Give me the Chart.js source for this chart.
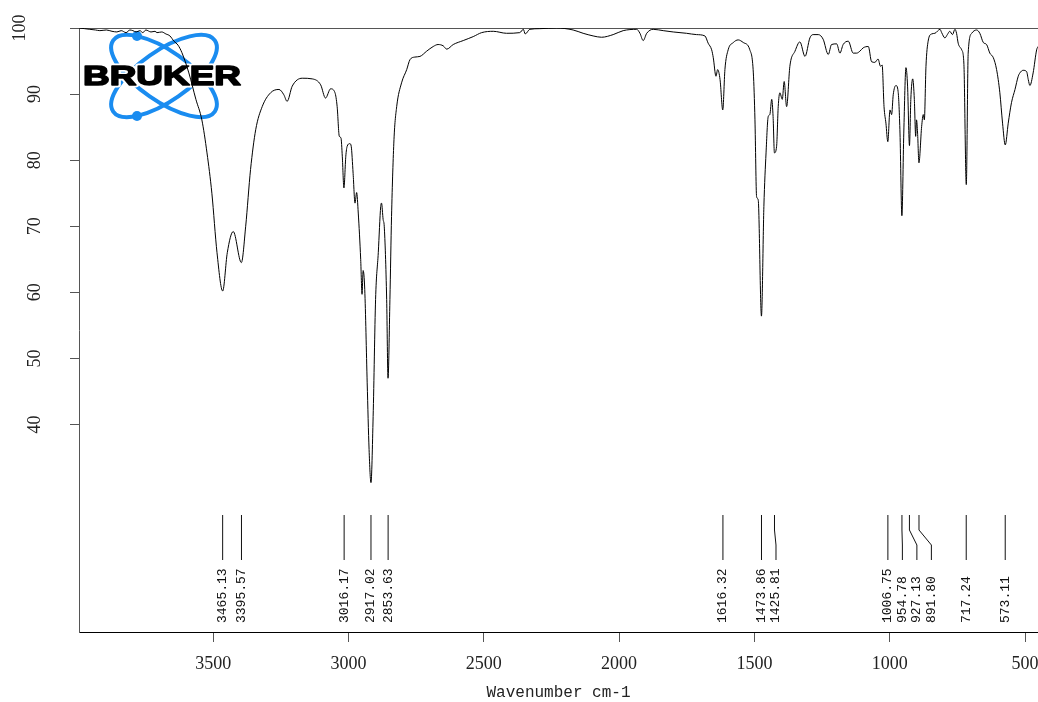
<!DOCTYPE html>
<html>
<head>
<meta charset="utf-8">
<script src="https://cdn.jsdelivr.net/npm/chart.js@4.4.1/dist/chart.umd.min.js"></script>
<style>
    html, body { margin: 0; padding: 0; background: #fff; }
    #wrap { width: 1038px; height: 702px; }
</style>
</head>
<body>
<div id="wrap"><canvas id="myChart" width="1038" height="702"></canvas></div>
<script>
// spectrum (wavenumber cm-1 / transmittance %)
const wavenumbers = [
    3996, 3975, 3956, 3935, 3919, 3895, 3874, 3856, 3840, 3822, 3808, 3797, 3785, 3771, 3760, 3749,
    3730, 3715, 3708, 3690, 3675, 3660, 3645, 3630, 3616, 3590, 3564, 3542, 3523, 3505, 3486, 3465,
    3448, 3426, 3396, 3380, 3362, 3343, 3319, 3288, 3257, 3239, 3227, 3208, 3171, 3134, 3103, 3085,
    3066, 3050, 3042, 3034, 3028, 3023, 3017, 3010, 3005, 2995, 2990, 2983, 2976, 2970, 2964, 2955,
    2950, 2946, 2940, 2931, 2924, 2917, 2909, 2900, 2890, 2881, 2878, 2872, 2868, 2859, 2854, 2847,
    2841, 2832, 2822, 2804, 2785, 2773, 2755, 2736, 2711, 2687, 2669, 2650, 2637, 2613, 2576, 2539,
    2508, 2465, 2416, 2367, 2354, 2347, 2330, 2293, 2231, 2170, 2133, 2096, 2065, 2022, 1985, 1935,
    1923, 1911, 1898, 1874, 1837, 1800, 1751, 1714, 1683, 1671, 1658, 1652, 1642, 1636, 1627, 1617,
    1609, 1597, 1578, 1560, 1541, 1517, 1504, 1498, 1492, 1486, 1474, 1465, 1457, 1449, 1443, 1436,
    1431, 1426, 1418, 1412, 1406, 1397, 1390, 1381, 1369, 1350, 1332, 1313, 1295, 1283, 1264, 1246,
    1227, 1215, 1196, 1184, 1172, 1153, 1135, 1122, 1110, 1098, 1079, 1067, 1055, 1043, 1034, 1028,
    1021, 1014, 1007, 999, 993, 987, 977, 969, 962, 955, 948, 940, 934, 927, 922, 915,
    909, 904, 901, 897, 892, 882, 876, 872, 866, 858, 845, 833, 814, 808, 796, 787,
    778, 768, 759, 753, 747, 734, 726, 717, 710, 697, 679, 667, 654, 642, 630, 617,
    605, 593, 583, 573, 562, 550, 537, 525, 519, 507, 494, 488, 482, 470, 457, 452
];
const transmittance = [
    100, 99.9, 99.8, 99.7, 99.6, 99.7, 99.5, 99.4, 99.6, 99.3, 99.7, 99.6, 99.4, 99.6, 99.3, 99.7,
    99.4, 99.5, 99.3, 99.4, 99.1, 98.8, 98.0, 97.4, 96.3, 93.2, 89.2, 86.1, 81.1, 75.0, 66.0, 60.2,
    66.0, 69.2, 64.5, 70.0, 78.6, 84.6, 88.1, 90.2, 90.7, 89.9, 88.9, 91.2, 92.4, 92.3, 91.4, 89.4,
    90.8, 90.2, 88.1, 83.6, 83.4, 80.6, 75.8, 80.6, 82.1, 82.5, 82.1, 78.0, 73.5, 75.1, 72.0, 65.0,
    59.7, 63.3, 60.4, 46.3, 36.2, 31.2, 41.2, 58.9, 66.0, 73.0, 73.5, 71.0, 70.0, 58.9, 47.0, 58.9,
    71.5, 83.1, 88.1, 91.7, 93.7, 95.2, 95.6, 95.7, 96.5, 97.2, 97.5, 97.3, 96.8, 97.5, 98.1, 98.7,
    99.3, 99.5, 99.2, 99.3, 99.8, 99.1, 99.8, 99.9, 100, 99.7, 99.2, 98.8, 98.6, 99.0, 99.6, 99.8,
    99.2, 98.1, 99.2, 99.8, 99.6, 99.4, 99.2, 99.0, 98.8, 97.7, 96.7, 95.5, 92.7, 93.7, 92.2, 87.6,
    93.7, 96.7, 97.8, 98.2, 97.8, 96.7, 93.2, 86.1, 74.5, 74.0, 56.4, 73.0, 81.1, 86.6, 86.9, 89.2,
    86.6, 81.1, 82.1, 88.1, 90.2, 89.2, 91.9, 88.1, 94.2, 96.5, 97.9, 95.7, 98.5, 99.0, 99.0, 98.3,
    96.0, 97.5, 97.6, 96.2, 97.5, 98.0, 96.2, 96.2, 96.5, 97.0, 97.2, 94.9, 94.8, 95.3, 94.2, 94.4,
    88.1, 85.6, 82.8, 87.6, 86.9, 89.9, 91.3, 90.4, 84.1, 71.6, 84.1, 94.0, 91.2, 82.2, 89.2, 92.3,
    89.2, 83.6, 86.1, 84.1, 79.6, 85.1, 86.9, 86.1, 94.2, 98.0, 99.1, 99.2, 99.8, 99.3, 98.5, 99.0,
    99.5, 99.0, 99.8, 99.2, 97.7, 96.7, 94.7, 76.3, 96.2, 99.2, 99.7, 99.2, 97.8, 97.5, 96.2, 95.5,
    93.7, 90.2, 85.6, 82.3, 85.6, 88.7, 90.7, 92.7, 93.2, 93.6, 93.4, 92.2, 91.3, 93.2, 96.7, 97.2
];

// picked peaks
const peakPositions = [3465.13, 3395.57, 3016.17, 2917.02, 2853.63, 1616.32, 1473.86, 1425.81,
    1006.75, 954.78, 927.13, 891.80, 717.24, 573.11];
const peakLabels = ['3465.13', '3395.57', '3016.17', '2917.02', '2853.63', '1616.32', '1473.86', '1425.81',
    '1006.75', '954.78', '927.13', '891.80', '717.24', '573.11'];

const xTicks = [3500, 3000, 2500, 2000, 1500, 1000, 500];
const yTicks = [40, 50, 60, 70, 80, 90, 100];

// Bruker logo drawn under the curve
const logoPlugin = {
    id: 'logo',
    beforeDatasetsDraw(chart) {
        const c = chart.ctx;
        c.save();
        c.strokeStyle = '#1a8cf0';
        c.lineWidth = 4;
        [35, -35].forEach(a => {
            c.beginPath();
            c.ellipse(164, 76, 62, 25, a * Math.PI / 180, 0, Math.PI * 2);
            c.stroke();
        });
        c.fillStyle = '#1a8cf0';
        [[137, 36], [137, 116]].forEach(p => {
            c.beginPath();
            c.arc(p[0], p[1], 5, 0, Math.PI * 2);
            c.fill();
        });
        c.font = 'bold 28px "Liberation Sans"';
        const w = c.measureText('BRUKER').width;
        c.translate(162, 77);
        c.scale(158 / w, 1);
        c.textAlign = 'center';
        c.textBaseline = 'middle';
        c.lineJoin = 'round';
        c.lineWidth = 5;
        c.strokeStyle = '#fff';
        c.strokeText('BRUKER', 0, 0);
        c.lineWidth = 1.6;
        c.strokeStyle = '#000';
        c.strokeText('BRUKER', 0, 0);
        c.fillStyle = '#000';
        c.fillText('BRUKER', 0, 0);
        c.restore();
    }
};

// rotated y tick labels + peak markers
const annotatePlugin = {
    id: 'annotate',
    afterDraw(chart) {
        const c = chart.ctx;
        const xs = chart.scales.x, ys = chart.scales.y;
        c.save();
        c.fillStyle = '#222';
        c.font = '18px "Liberation Serif"';
        c.textAlign = 'center';
        c.textBaseline = 'middle';
        yTicks.forEach(v => {
            c.save();
            c.translate(v === 100 ? 20 : 35, ys.getPixelForValue(v));
            c.rotate(-Math.PI / 2);
            c.fillText(String(v), 0, 0);
            c.restore();
        });

        // spread labels that would overlap
        let prev = -1000;
        c.strokeStyle = '#111';
        c.lineWidth = 1;
        c.font = '13px "Liberation Mono"';
        c.textAlign = 'left';
        c.fillStyle = '#111';
        peakPositions.forEach((p, i) => {
            const px = xs.getPixelForValue(p);
            const lx = Math.max(px, prev + 14.5);
            prev = lx;
            c.beginPath();
            c.moveTo(px, 515);
            c.lineTo(px, 530);
            c.lineTo(lx, 545);
            c.lineTo(lx, 560);
            c.stroke();
            c.save();
            c.translate(lx, 623);
            c.rotate(-Math.PI / 2);
            c.fillText(peakLabels[i], 0, 0);
            c.restore();
        });
        c.restore();
    }
};

const ctx = document.getElementById('myChart').getContext('2d');
const myChart = new Chart(ctx, {
    type: 'line',
    data: {
        datasets: [{
            data: wavenumbers.map((w, i) => ({ x: w, y: transmittance[i] })),
            borderColor: '#000',
            borderWidth: 1,
            pointRadius: 0,
            fill: false,
            cubicInterpolationMode: 'monotone'
        }]
    },
    options: {
        responsive: false,
        animation: false,
        devicePixelRatio: 1,
        layout: { autoPadding: false, padding: { top: 28, right: 0, bottom: 0, left: 0 } },
        plugins: { legend: { display: false }, tooltip: { enabled: false } },
        scales: {
            x: {
                type: 'linear',
                reverse: true,
                min: 452,
                max: 3996,
                afterBuildTicks: s => { s.ticks = xTicks.map(v => ({ value: v })); },
                afterFit: s => { s.height = 70; s.paddingLeft = 0; s.paddingRight = 0; },
                grid: { drawOnChartArea: false, drawTicks: true, tickLength: 10, tickColor: '#555' },
                border: { color: '#000', width: 1 },
                ticks: {
                    color: '#222',
                    font: { family: 'Liberation Serif', size: 18 },
                    padding: 11,
                    maxRotation: 0,
                    autoSkip: false,
                    callback: v => String(v)
                },
                title: {
                    display: true,
                    text: 'Wavenumber cm-1',
                    color: '#222',
                    font: { family: 'Liberation Mono', size: 16 },
                    padding: { top: 0, bottom: 0 }
                }
            },
            y: {
                type: 'linear',
                min: 8.6,
                max: 100,
                afterBuildTicks: s => { s.ticks = yTicks.map(v => ({ value: v })); },
                afterFit: s => { s.width = 79; s.paddingTop = 0; s.paddingBottom = 0; },
                ticks: { display: false },
                grid: {
                    drawTicks: true,
                    tickLength: 9,
                    tickColor: '#555',
                    color: c => (c.tick && c.tick.value === 100) ? '#555' : 'rgba(0,0,0,0)'
                },
                border: { color: '#555', width: 1 }
            }
        }
    },
    plugins: [logoPlugin, annotatePlugin]
});
</script>
</body>
</html>
